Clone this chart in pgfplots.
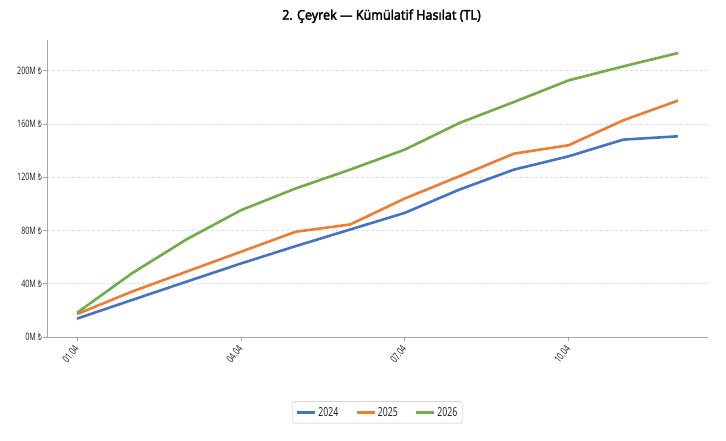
\documentclass[border=0pt]{standalone}
\usepackage{fontspec}
\setmainfont{Noto Sans}[FakeStretch=0.7]
\newfontfamily\titlefont{Noto Sans}[FakeStretch=0.93, FakeBold=2.2]
\usepackage{pgfplots}
\pgfplotsset{compat=1.18}
\definecolor{cA}{HTML}{4472C4}
\definecolor{cB}{HTML}{ED7D31}
\definecolor{cC}{HTML}{70AD47}
\definecolor{axgray}{HTML}{A6A6A6}
\definecolor{txt}{HTML}{262626}
\begin{document}
\begin{tikzpicture}
\useasboundingbox (-47bp,-104bp) rectangle (679bp,337bp);
\begin{axis}[
  scale only axis, width=661bp, height=297bp,
  xmin=-0.55, xmax=11.55, ymin=0, ymax=223,
  axis x line*=bottom, axis y line*=left,
  axis line style={axgray, line width=0.8bp},
  xtick={0,3,6,9}, xticklabels={01.04,04.04,07.04,10.04},
  x tick label style={rotate=52, anchor=east, yshift=-3bp, xshift=-1.5bp, font=\fontsize{10.5}{11}\selectfont, text=txt},
  ytick={0,40,...,200},
  yticklabel={\pgfmathprintnumber{\tick}M ₺},
  y tick label style={font=\fontsize{10.3}{11}\selectfont, text=txt, xshift=2.5bp},
  /pgf/number format/assume math mode=true,
  ymajorgrids, grid style={densely dashed, black!12, line width=0.5bp},
  tick style={axgray, line width=0.8bp}, major tick length=4bp, tick align=outside,
  title={\titlefont 2. Çeyrek — Kümülatif Hasılat (TL)},
  title style={at={(0.5,1)}, anchor=base, yshift=14.3bp, xshift=4bp, font=\fontsize{13.5}{15}\selectfont, text=black},
  legend columns=3,
  legend style={at={(0.5,-0.254)}, anchor=center, draw=black!25, rounded corners=1.5pt,
    font=\fontsize{12.5}{13}\selectfont, text=txt, inner xsep=3bp, inner ysep=3.5bp,
    /tikz/every even column/.append style={column sep=15bp}},
  legend image code/.code={\draw[#1, line width=2.6bp] (0bp,0bp) -- (18bp,0bp);},
  every axis plot/.append style={line width=2.6bp, line join=round, mark=none},
]
\addplot[cA] coordinates {(0,13.8)(1,27.7)(2,41.5)(3,55.2)(4,68.2)(5,80.7)(6,93.2)(7,110.7)(8,125.7)(9,135.7)(10,148.2)(11,150.7)};
\addplot[cB] coordinates {(0,17.2)(1,34)(2,49)(3,64)(4,79)(5,84.5)(6,104)(7,120.7)(8,137.7)(9,144)(10,162.7)(11,177.5)};
\addplot[cC] coordinates {(0,18.2)(1,47.7)(2,73.2)(3,95.2)(4,111.5)(5,125.7)(6,140.7)(7,160.7)(8,176.5)(9,192.7)(10,203.2)(11,213.2)};
\legend{2024,2025,2026}
\end{axis}
\end{tikzpicture}
\end{document}
